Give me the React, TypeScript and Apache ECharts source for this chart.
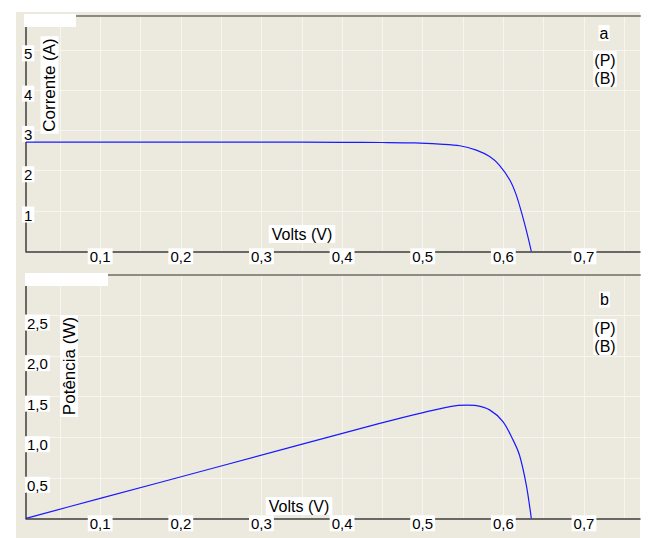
import React, { useEffect, useRef } from 'react';
import * as echarts from 'echarts';

// ---- data ----
const voltsI = [0.008, 0.1, 0.2, 0.3, 0.4, 0.45, 0.49, 0.521, 0.546, 0.5665, 0.583, 0.595, 0.608, 0.616, 0.624, 0.6305, 0.6347];
const current = [2.71, 2.71, 2.71, 2.71, 2.705, 2.7, 2.69, 2.66, 2.62, 2.51, 2.35, 2.14, 1.77, 1.4, 0.86, 0.36, 0];

const voltsP = [0.008, 0.1, 0.25, 0.4467, 0.5004, 0.5418, 0.555, 0.5665, 0.583, 0.5995, 0.612, 0.62, 0.6285, 0.6347];
const power = [0, 0.245, 0.645, 1.17, 1.304, 1.39, 1.395, 1.39, 1.337, 1.193, 0.967, 0.78, 0.41, 0];

const xTickValues = [0.1, 0.2, 0.3, 0.4, 0.5, 0.6, 0.7];
const currentTicks = [1, 2, 3, 4, 5];
const powerTicks = [0.5, 1.0, 1.5, 2.0, 2.5];

const X_MIN = 0.008;
const X_MAX = 0.7695;

const FONT = '"Liberation Sans", Arial, sans-serif';
const GRID_COLOR = '#f7f5ef';
const AXIS_COLOR = '#3c3c3c';
const FRAME_COLOR = '#8c8b84';
const CURVE_COLOR = '#1a1aff';

const comma = (v: number) => v.toFixed(1).replace('.', ',');
const near = (list: number[], v: number) => list.find((t) => Math.abs(t - v) < 1e-6);

const labelRich = {
  b: {
    backgroundColor: '#ffffff',
    padding: [1, 2, 0, 2],
    fontSize: 15,
    lineHeight: 14,
    fontFamily: FONT,
    color: '#000',
  },
};

function xAxes(gridIndex: number) {
  return [
    {
      type: 'value',
      gridIndex,
      min: X_MIN,
      max: X_MAX,
      splitNumber: 15,
      minInterval: 0.05,
      maxInterval: 0.05,
      axisLine: { show: true, onZero: false, lineStyle: { color: AXIS_COLOR, width: 1.5 } },
      axisTick: { show: false },
      axisLabel: {
        show: true,
        margin: -2,
        verticalAlign: 'top',
        formatter: (v: number) => {
          const t = near(xTickValues, v);
          return t !== undefined ? `{b|${comma(t)}}` : '';
        },
        rich: labelRich,
      },
      splitLine: {
        show: true,
        showMinLine: false,
        showMaxLine: false,
        lineStyle: { color: GRID_COLOR, width: 1 },
      },
    },
    {
      type: 'value',
      gridIndex,
      position: 'top',
      min: 0,
      max: 1,
      axisLine: { show: true, onZero: false, lineStyle: { color: FRAME_COLOR, width: 2 } },
      axisTick: { show: false },
      axisLabel: { show: false },
      splitLine: { show: false },
    },
  ];
}

export default function App() {
  const ref = useRef<HTMLDivElement>(null);

  useEffect(() => {
    if (!ref.current) return;
    const chart = echarts.init(ref.current, null, { renderer: 'svg' });

    const option: any = {
      animation: false,
      backgroundColor: 'transparent',
      grid: [
        { left: 26, top: 16, width: 614, height: 235.3, containLabel: false },
        { left: 26, top: 275, width: 614, height: 243.3, containLabel: false },
      ],
      xAxis: [...xAxes(0), ...xAxes(1)],
      yAxis: [
        {
          type: 'value',
          gridIndex: 0,
          min: 0,
          max: 5.84,
          interval: 1,
          axisLine: { show: true, onZero: false, lineStyle: { color: AXIS_COLOR, width: 1.5 } },
          axisTick: { show: false },
          axisLabel: {
            align: 'left',
            margin: 4,
            verticalAlign: 'middle',
            padding: [7, 0, 0, 0],
            formatter: (v: number) => {
              const t = near(currentTicks, v);
              return t !== undefined ? `{b|${t}}` : '';
            },
            rich: labelRich,
          },
          splitLine: {
            show: true,
            showMinLine: false,
            showMaxLine: false,
            lineStyle: { color: GRID_COLOR, width: 1 },
          },
        },
        {
          type: 'value',
          gridIndex: 1,
          min: 0,
          max: 3,
          interval: 0.5,
          axisLine: { show: true, onZero: false, lineStyle: { color: AXIS_COLOR, width: 1.5 } },
          axisTick: { show: false },
          axisLabel: {
            align: 'left',
            margin: 1,
            verticalAlign: 'top',
            formatter: (v: number) => {
              const t = near(powerTicks, v);
              return t !== undefined ? `{b|${comma(t)}}` : '';
            },
            rich: labelRich,
          },
          splitLine: {
            show: true,
            showMinLine: false,
            showMaxLine: false,
            lineStyle: { color: GRID_COLOR, width: 1 },
          },
        },
      ],
      series: [
        {
          type: 'line',
          name: 'Corrente',
          xAxisIndex: 0,
          yAxisIndex: 0,
          data: voltsI.map((v, i) => [v, current[i]]),
          showSymbol: false,
          smooth: 0.3,
          lineStyle: { color: CURVE_COLOR, width: 1.2 },
        },
        {
          type: 'line',
          name: 'Potência',
          xAxisIndex: 2,
          yAxisIndex: 1,
          data: voltsP.map((v, i) => [v, power[i]]),
          showSymbol: false,
          smooth: 0.3,
          lineStyle: { color: CURVE_COLOR, width: 1.2 },
        },
      ],
      graphic: [
        { type: 'rect', z: 100, shape: { x: 24, y: 14, width: 52, height: 13 }, style: { fill: '#ffffff' } },
        { type: 'rect', z: 100, shape: { x: 25, y: 273, width: 83, height: 13 }, style: { fill: '#ffffff' } },
        {
          type: 'text', z: 100, x: 49.5, y: 85, rotation: Math.PI / 2,
          style: { text: 'Corrente (A)', font: `17px ${FONT}`, fill: '#000', textAlign: 'center', textVerticalAlign: 'middle', backgroundColor: '#fff', padding: [1, 2, 0, 2] },
        },
        {
          type: 'text', z: 100, x: 69, y: 366, rotation: Math.PI / 2,
          style: { text: 'Potência (W)', font: `17px ${FONT}`, fill: '#000', textAlign: 'center', textVerticalAlign: 'middle', backgroundColor: '#fff', padding: [1, 2, 0, 2] },
        },
        {
          type: 'text', z: 100, x: 302, y: 234,
          style: { text: 'Volts (V)', font: `16px ${FONT}`, fill: '#000', textAlign: 'center', textVerticalAlign: 'middle', backgroundColor: '#fff', padding: [1, 3, 1, 3] },
        },
        {
          type: 'text', z: 100, x: 299, y: 506,
          style: { text: 'Volts (V)', font: `16px ${FONT}`, fill: '#000', textAlign: 'center', textVerticalAlign: 'middle', backgroundColor: '#fff', padding: [1, 3, 1, 3] },
        },
        {
          type: 'text', z: 100, x: 604, y: 33,
          style: { text: 'a', font: `16px ${FONT}`, fill: '#000', textAlign: 'center', textVerticalAlign: 'middle', backgroundColor: '#fff', padding: [0, 1, 0, 1] },
        },
        {
          type: 'text', z: 100, x: 605, y: 69,
          style: { text: '(P)\n(B)', font: `16px ${FONT}`, lineHeight: 18, fill: '#000', textAlign: 'center', textVerticalAlign: 'middle', backgroundColor: '#fff', padding: [0, 1, 0, 1] },
        },
        {
          type: 'text', z: 100, x: 604.5, y: 299.5,
          style: { text: 'b', font: `16px ${FONT}`, fill: '#000', textAlign: 'center', textVerticalAlign: 'middle', backgroundColor: '#fff', padding: [0, 1, 0, 1] },
        },
        {
          type: 'text', z: 100, x: 605, y: 337,
          style: { text: '(P)\n(B)', font: `16px ${FONT}`, lineHeight: 18, fill: '#000', textAlign: 'center', textVerticalAlign: 'middle', backgroundColor: '#fff', padding: [0, 1, 0, 1] },
        },
      ],
    };

    chart.setOption(option);
    return () => chart.dispose();
  }, []);

  return (
    <div style={{ position: 'fixed', left: 0, top: 0, width: 650, height: 538, background: '#ffffff', overflow: 'hidden' }}>
      <div style={{ position: 'absolute', left: 16, top: 12, width: 624, height: 526, background: '#ECE9DF' }} />
      <div ref={ref} style={{ position: 'absolute', left: 0, top: 0, width: 650, height: 538 }} />
    </div>
  );
}
